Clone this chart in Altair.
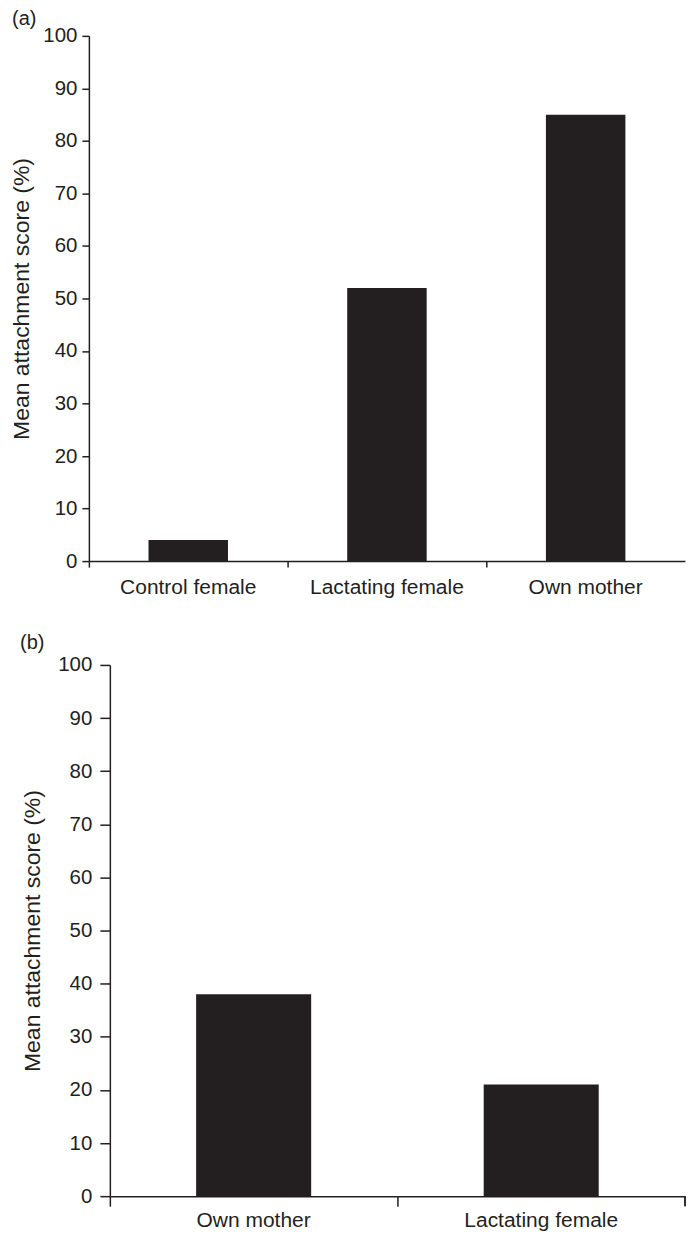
import altair as alt
import pandas as pd

cats_a = ["Control female", "Lactating female", "Own mother"]
vals_a = [4, 52, 85]
cats_b = ["Own mother", "Lactating female"]
vals_b = [38, 21]
y_ticks = [0, 10, 20, 30, 40, 50, 60, 70, 80, 90, 100]

INK = "#231f20"
FONT = "Liberation Sans"


def panel(cats, vals, label, width, height, shift, xtick, ytick, ylab_pad, xlab_pad,
          title_x, label_dx, end_tick, title_offset):
    df = pd.DataFrame({"cat": cats, "val": vals})
    bars = alt.Chart(df).mark_bar(color=INK, width={"band": 0.4}).encode(
        x=alt.X("cat:N", sort=cats, title=None,
                scale=alt.Scale(paddingInner=0, paddingOuter=0, range=[shift, width]),
                axis=alt.Axis(bandPosition=0, labelAngle=0,
                              tickSize=xtick, labelPadding=xlab_pad, domainColor=INK,
                              tickColor=INK, labelColor=INK, labelFont=FONT,
                              labelFontSize=21, domainWidth=1.5, tickWidth=1.5)),
        y=alt.Y("val:Q", title="Mean attachment score (%)",
                scale=alt.Scale(domain=[0, 100], nice=False),
                axis=alt.Axis(values=y_ticks, grid=False, tickSize=ytick,
                              offset=-shift,
                              labelPadding=ylab_pad, domainColor=INK, tickColor=INK,
                              labelColor=INK, labelFont=FONT, labelFontSize=20.5,
                              titleFont=FONT, titleFontSize=23,
                              titleFontWeight="normal", titleColor=INK,
                              titleX=title_x, titleBaseline="middle",
                              domainWidth=1.5, tickWidth=1.5)),
    )
    # invisible spacer fixing the left edge of the chart
    spacer = alt.Chart(df).mark_rule(strokeOpacity=0).encode(
        x=alt.value(-75), y=alt.value(0), y2=alt.value(1)
    )
    layers = [bars, spacer]
    if end_tick:
        layers.append(alt.Chart(df).mark_rule(color=INK, strokeWidth=1.5).encode(
            x=alt.value(width), y=alt.value(height), y2=alt.value(height + xtick)
        ))
    return alt.layer(*layers).properties(
        width=width, height=height,
        title=alt.TitleParams(label, anchor="start", frame="group", font=FONT,
                              fontSize=20, fontWeight="normal", color=INK,
                              offset=title_offset, dx=label_dx),
    )


a = panel(cats_a, vals_a, "(a)", 597, 526, 0, 6, 7, 5, 9, -67, -77, False, -3)
b = panel(cats_b, vals_b, "(b)", 597, 532, 21, 10, 10, 8, 3, -77, -69, True, 2)

chart = alt.vconcat(a, b, spacing=36).properties(
    padding={"left": 3, "top": 0, "right": 0, "bottom": 6}
).configure_view(stroke=None)

chart.save("out.html", embed_options={"renderer": "svg", "actions": False})
